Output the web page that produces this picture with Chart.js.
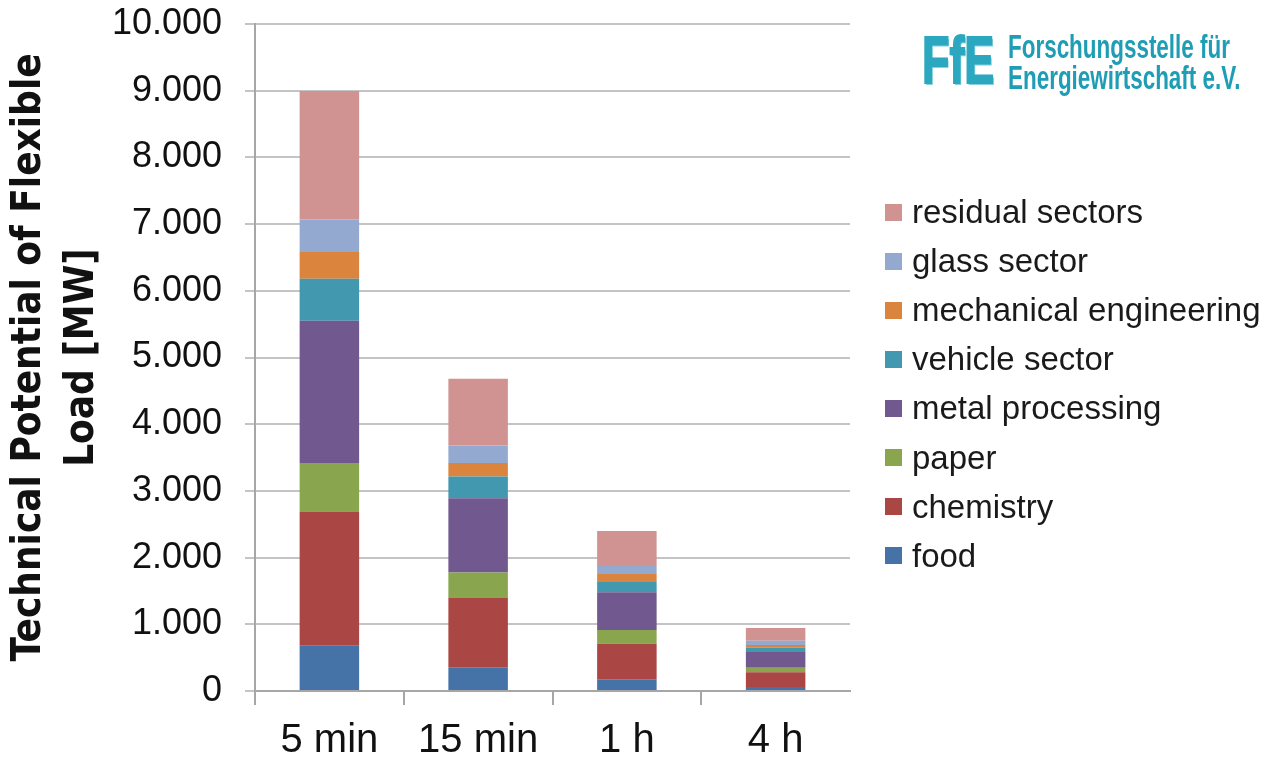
<!DOCTYPE html>
<html>
<head>
<meta charset="utf-8">
<script src="https://cdn.jsdelivr.net/npm/chart.js@4"></script>
<style>
    html, body { margin: 0; padding: 0; background: #fff; }
    #wrap { position: relative; width: 1263px; height: 761px; overflow: hidden; }
    #chart { position: absolute; left: 0; top: 0; }
    #legend { position: absolute; left: 885px; top: 187.5px; font-family: "Liberation Sans", Arial, sans-serif; font-size: 33px; color: #1a1a1a; }
    #legend .item { height: 49.1px; display: flex; align-items: center; white-space: nowrap; }
    #legend .box { width: 17px; height: 17px; margin-right: 10px; flex: none; }
    #logo { position: absolute; left: 922px; top: 30px; height: 60px; }
    #logo .mark { position: absolute; left: 0; top: -2px; font-family: "Liberation Sans", Arial, sans-serif; font-weight: bold; font-size: 66px; line-height: 64px; color: #2ba8bf; -webkit-text-stroke: 2px #2ba8bf; text-shadow: 2px 2px 0 #86d2df; transform: scaleX(0.68); transform-origin: left top; }
    #logo .name { position: absolute; left: 86px; top: 1px; font-family: "Liberation Sans", Arial, sans-serif; font-weight: bold; font-size: 34px; line-height: 31px; color: #1f9db5; white-space: nowrap; transform: scaleX(0.66); transform-origin: left top; }
</style>
</head>
<body>
<div id="wrap">
    <canvas id="chart" width="1263" height="761"></canvas>
    <div id="legend"></div>
    <div id="logo">
        <div class="mark">FfE</div>
        <div class="name">Forschungsstelle für<br>Energiewirtschaft e.V.</div>
    </div>
</div>
<script>
// Kategorien (Dauer der Lastverschiebung)
const durations = ['5 min', '15 min', '1 h', '4 h'];

// Werte je Branche in MW
const food = [680, 355, 175, 60];
const chemistry = [2010, 1045, 535, 220];
const paper = [730, 375, 205, 70];
const metalProcessing = [2130, 1115, 565, 235];
const vehicleSector = [630, 325, 155, 65];
const mechanicalEngineering = [400, 205, 120, 40];
const glassSector = [490, 260, 120, 65];
const residualSectors = [1925, 1000, 525, 190];

const seriesNames = ['food', 'chemistry', 'paper', 'metal processing', 'vehicle sector',
    'mechanical engineering', 'glass sector', 'residual sectors'];
const seriesValues = [food, chemistry, paper, metalProcessing, vehicleSector,
    mechanicalEngineering, glassSector, residualSectors];
const seriesColors = ['#4572A7', '#AA4643', '#89A54E', '#71588F', '#4198AF',
    '#DB843D', '#93A9CF', '#D19392'];

const yTicks = [0, 1000, 2000, 3000, 4000, 5000, 6000, 7000, 8000, 9000, 10000];

// Zahlen mit Punkt als Tausendertrennzeichen
function formatTick(v) {
    return v.toLocaleString('de-DE');
}

const datasets = seriesNames.map((name, i) => ({
    label: name,
    data: seriesValues[i],
    backgroundColor: seriesColors[i],
    borderWidth: 0,
    barPercentage: 0.4,
    categoryPercentage: 1.0
}));

const ctx = document.getElementById('chart');
new Chart(ctx, {
    type: 'bar',
    data: { labels: durations, datasets: datasets },
    options: {
        responsive: false,
        animation: false,
        layout: { padding: { top: 24, right: 413, bottom: 0, left: 0 } },
        plugins: {
            legend: { display: false },
            tooltip: { enabled: false }
        },
        scales: {
            x: {
                stacked: true,
                afterFit: scale => { scale.height = 70; },
                grid: {
                    offset: true,
                    drawOnChartArea: false,
                    drawTicks: true,
                    tickLength: 14,
                    lineWidth: 2,
                    // letzter Strich ganz rechts fehlt im Original
                    color: c => c.type === 'tick' ? '#a6a6a6' : 'rgba(0,0,0,0)'
                },
                border: { color: '#a6a6a6', width: 2 },
                ticks: {
                    color: '#111',
                    padding: 12,
                    font: { family: '"Liberation Sans", Arial, sans-serif', size: 40 }
                }
            },
            y: {
                stacked: true,
                min: 0,
                max: 10000,
                afterBuildTicks: scale => { scale.ticks = yTicks.map(v => ({ value: v })); },
                afterFit: scale => { scale.width = 255; },
                grid: {
                    color: '#c4c4c4',
                    lineWidth: 2,
                    drawTicks: true,
                    tickLength: 10
                },
                border: { color: '#a6a6a6', width: 2 },
                ticks: {
                    color: '#111',
                    padding: 23,
                    callback: v => formatTick(v),
                    // kleine Zeilenhoehe, damit der Plotbereich oben nicht nach unten rutscht
                    font: { family: '"Liberation Sans", Arial, sans-serif', size: 36, lineHeight: 0.02 }
                },
                title: {
                    display: true,
                    text: ['Technical Potential of Flexible', 'Load [MW]'],
                    color: '#111',
                    padding: { top: 3, bottom: 0 },
                    font: { family: '"DejaVu Sans Condensed", "Liberation Sans", sans-serif', size: 40, weight: 'bold', lineHeight: 1.32 }
                }
            }
        }
    }
});

// Legende (umgekehrte Reihenfolge wie im Stapel)
const legendDiv = document.getElementById('legend');
for (let i = seriesNames.length - 1; i >= 0; i--) {
    const item = document.createElement('div');
    item.className = 'item';
    const box = document.createElement('span');
    box.className = 'box';
    box.style.background = seriesColors[i];
    const txt = document.createElement('span');
    txt.textContent = seriesNames[i];
    item.appendChild(box);
    item.appendChild(txt);
    legendDiv.appendChild(item);
}
</script>
</body>
</html>
